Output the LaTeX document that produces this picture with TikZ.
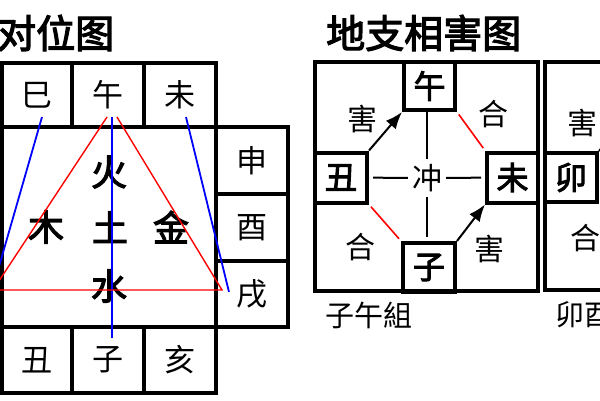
\documentclass[tikz,border=0pt]{standalone}
\usepackage{fontspec}
\setmainfont{Noto Sans CJK SC}[AutoFakeBold=3]
\usetikzlibrary{positioning,calc,arrows.meta}

\tikzset{
  cell/.style={draw, line width=4pt, inner sep=0pt, font=\fontsize{31}{31}\selectfont},
  boxlbl/.style={draw, line width=4pt, inner sep=0pt, font=\bfseries\fontsize{32}{32}\selectfont},
  elem/.style={inner sep=0pt, font=\bfseries\fontsize{36}{36}\selectfont},
  rel/.style={inner sep=0pt, font=\fontsize{30}{30}\selectfont},
  ttl/.style={inner sep=0pt, anchor=west, font=\bfseries\fontsize{39}{39}\selectfont},
  captxt/.style={inner sep=0pt, anchor=west, font=\fontsize{29}{29}\selectfont},
  thinline/.style={line width=2pt},
  hareline/.style={->, line width=2pt},
  heline/.style={red, line width=1.6pt, shorten <=3pt, shorten >=3pt},
}

\begin{document}
\begin{tikzpicture}[>={Latex[length=17pt,width=13pt]}, x=1pt, y=-1pt]
  \useasboundingbox (0,0) rectangle (600,400);
  \clip (0,0) rectangle (600,400);
  \fill[white] (0,0) rectangle (600,400);
  %%
  % Titles
  \node[ttl] (title1) at (-3,33) {对位图};
  \node[ttl] (title2) at (326,33) {地支相害图};
  %%
  % Node: grid of the twelve branches
  \node[cell, minimum width=214pt, minimum height=200pt] (mid) at (109,227) {};
  \node[cell, minimum width=70pt, minimum height=64pt] (si) at (37,95) {巳};
  \node[cell, minimum width=72pt, minimum height=64pt] (wu) at (108,95) {午};
  \node[cell, minimum width=72pt, minimum height=64pt] (wei) at (180,95) {未};
  \node[cell, minimum width=72pt, minimum height=67pt] (shen) at (252,160.5) {申};
  \node[cell, minimum width=72pt, minimum height=67pt] (you) at (252,227.5) {酉};
  \node[cell, minimum width=72pt, minimum height=66pt] (xu) at (252,294) {戌};
  \node[cell, minimum width=70pt, minimum height=66pt] (chou) at (37,360) {丑};
  \node[cell, minimum width=72pt, minimum height=66pt] (zi) at (108,360) {子};
  \node[cell, minimum width=72pt, minimum height=66pt] (hai) at (180,360) {亥};
  % Node: five elements
  \node[elem] (huo) at (109,172) {火};
  \node[elem] (mu) at (46,227) {木};
  \node[elem] (tu) at (110,227) {土};
  \node[elem] (jin) at (171,227) {金};
  \node[elem] (shui) at (109,286) {水};
  % Edge: opposite lines
  \coordinate (wuS) at (112,117);
  \coordinate (ziN) at (112,338);
  \coordinate (siS) at (42,117);
  \coordinate (siE) at (-4,277);
  \coordinate (weiS) at (186,117);
  \coordinate (weiE) at (229,292);
  \draw[blue, line width=1.8pt] (wuS) -- (ziN);
  \draw[blue, line width=1.8pt] (siS) -- (siE);
  \draw[blue, line width=1.8pt] (weiS) -- (weiE);
  % Edge: triangle
  \coordinate (triL) at (107,117);
  \coordinate (triR) at (117,117);
  \coordinate (triBL) at (-7,290);
  \coordinate (triBR) at (222,290);
  \draw[red, line width=1.4pt] (triL) -- (triBL) -- (triBR) -- (triR);
  %%
  % Node: harm diagram, zi-wu group
  \draw[line width=4pt] (315,62) rectangle (538,291);
  \node[boxlbl, minimum width=51pt, minimum height=48pt] (wu2) at (429.5,86) {午};
  \node[boxlbl, minimum width=52pt, minimum height=50pt] (chou2) at (341,177.5) {丑};
  \node[boxlbl, minimum width=51pt, minimum height=50pt] (wei2) at (512.5,177.5) {未};
  \node[boxlbl, minimum width=52pt, minimum height=49pt] (zi2) at (429,267.5) {子};
  \node[rel, minimum width=38pt, minimum height=38pt] (chong) at (427,178) {冲};
  \node[rel] (hai1) at (362,119) {害};
  \node[rel] (he1) at (493,114) {合};
  \node[rel] (he2) at (360,247) {合};
  \node[rel] (hai2) at (489,249) {害};
  \node[captxt] (cap1) at (325,315) {子午組};
  % Edge: wu2 -> chong -> zi2, chou2 -> chong -> wei2
  \draw[thinline] (wu2.south -| chong) -- (chong);
  \draw[thinline, shorten >=4pt] (chong) -- (chong |- zi2.north);
  \draw[thinline, shorten <=4pt] (chou2) -- (chong);
  \draw[thinline, shorten >=4pt] (chong) -- (wei2);
  % Edge: chou2 -> wu2, zi2 -> wei2
  \draw[hareline] (chou2.north east) -- (wu2.south west);
  \draw[hareline] (zi2.north east) -- (wei2.south west);
  % Edge: wu2 -- wei2, chou2 -- zi2
  \draw[heline] (wu2.south east) -- (wei2.north west);
  \draw[heline] (chou2.south east) -- (zi2.north west);
  %%
  % Node: harm diagram, mao-you group (cut off)
  \draw[line width=4pt] (545,62) rectangle (768,290);
  \node[boxlbl, minimum width=52pt, minimum height=49pt] (mao) at (571,177.5) {卯};
  \node[rel] (hai3) at (582,123) {害};
  \node[rel] (he3) at (585,238) {合};
  \node[captxt] (cap2) at (555,315) {卯酉};
  \coordinate (maoNE) at (640,105);
  \coordinate (maoSE) at (640,252);
  \draw[hareline] (mao.north east) -- (maoNE);
  \draw[heline] (mao.south east) -- (maoSE);
\end{tikzpicture}
\end{document}
